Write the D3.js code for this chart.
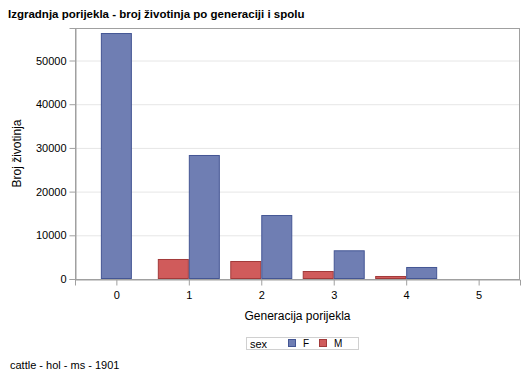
<!DOCTYPE html>
<html><head><meta charset="utf-8">
<script src="https://cdn.jsdelivr.net/npm/d3@7"></script>
<style>body{margin:0;background:#fff}svg{font-family:"Liberation Sans",Arial,sans-serif}</style>
</head><body><svg id="c" width="529" height="378"></svg>
<script>
const generations = ["0","1","2","3","4","5"];
const seriesNames = ["M","F"];
const valuesF = [56290, 28380, 14640, 6570, 2750, 0];
const valuesM = [null, 4580, 4120, 1830, 690, null];
const yTicks = [0, 10000, 20000, 30000, 40000, 50000];
const colors = {F:"#6F7EB3", M:"#D05B5B"};
const strokes = {F:"#445694", M:"#A23A3A"};

const svg = d3.select("#c");
const L=75, R=520, T=28, B=279;
const x = d3.scalePoint().domain(generations).range([L,R]).padding(0.571);
const y = d3.scaleLinear().domain([0,57440]).range([B,T]);
const barW = 31;

// gridlines
svg.append("g").selectAll("line").data(yTicks.filter(d=>d>0)).join("line")
  .attr("x1",L).attr("x2",R).attr("y1",d=>y(d)+0.5).attr("y2",d=>y(d)+0.5)
  .attr("stroke","#E6E6E6");

// bars
const data = generations.map((g,i)=>{
  const items=[];
  if(valuesM[i]!=null) items.push({s:"M",v:valuesM[i]});
  if(valuesF[i]!=null && valuesF[i]>0) items.push({s:"F",v:valuesF[i]});
  return {g, items};
});
data.forEach(d=>{
  const n=d.items.length;
  d.items.forEach((it,j)=>{
    const x0 = x(d.g) - n*barW/2 + j*barW;
    svg.append("rect").attr("x",x0+0.5).attr("y",y(it.v)+0.5)
      .attr("width",barW-1).attr("height",Math.max(0,y(0)-y(it.v)-1))
      .attr("fill",colors[it.s]).attr("stroke",strokes[it.s]).attr("stroke-width",1);
  });
});

// frame
svg.append("rect").attr("x",L+0.5).attr("y",T+0.5).attr("width",R-L-1).attr("height",B-T)
  .attr("fill","none").attr("stroke","#A0A0A0");

// axes
const yAxis = svg.append("g").attr("transform",`translate(${L+0.5},0)`)
  .call(d3.axisLeft(y).tickValues(yTicks).tickSize(6).tickPadding(3).tickFormat(d3.format("d")));
const xAxis = svg.append("g").attr("transform",`translate(0,${B+0.5})`)
  .call(d3.axisBottom(x).tickSize(6).tickPadding(6));
[yAxis,xAxis].forEach(a=>{
  a.select(".domain").attr("stroke","#A0A0A0");
  a.selectAll(".tick line").attr("stroke","#A0A0A0");
  a.selectAll(".tick text").attr("fill","#000").style("font-size","11px").style("font-family","Liberation Sans, Arial, sans-serif");
});

// titles
svg.append("text").attr("x",8).attr("y",18).text("Izgradnja porijekla - broj životinja po generaciji i spolu")
  .style("font-size","11.5px").style("font-weight","bold");
svg.append("text").attr("transform",`translate(21,${(T+B)/2}) rotate(-90)`).attr("text-anchor","middle")
  .text("Broj životinja").style("font-size","12px");
svg.append("text").attr("x",(L+R)/2).attr("y",320).attr("text-anchor","middle")
  .text("Generacija porijekla").style("font-size","12px");

// legend
const lg = svg.append("g");
lg.append("rect").attr("x",246.5).attr("y",337.5).attr("width",112).attr("height",12).attr("fill","none").attr("stroke","#D0D0D0");
lg.append("text").attr("x",250).attr("y",347.5).text("sex").style("font-size","11px");
const legItems = [{s:"F",sx:288},{s:"M",sx:319}];
legItems.forEach(it=>{
  lg.append("rect").attr("x",it.sx+0.5).attr("y",339.5).attr("width",7).attr("height",7)
    .attr("fill",colors[it.s]).attr("stroke",strokes[it.s]);
  lg.append("text").attr("x",it.sx+15).attr("y",347).text(it.s).style("font-size","10px");
});

// footnote
svg.append("text").attr("x",10).attr("y",369).text("cattle - hol - ms - 1901").style("font-size","11px");
</script></body></html>
